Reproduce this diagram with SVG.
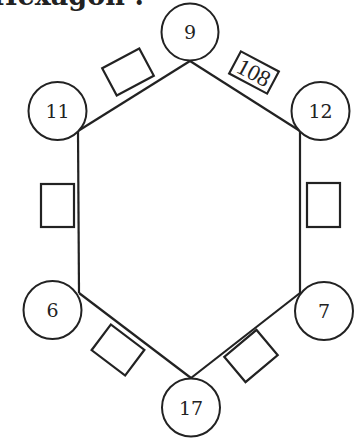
<svg xmlns="http://www.w3.org/2000/svg" width="363" height="438" viewBox="0 0 363 438">
<style>
.n circle{fill:#fff;stroke:#222;stroke-width:2}
.n text{font-family:"DejaVu Serif","Liberation Serif",serif;font-size:19px;fill:#222;text-anchor:middle;dominant-baseline:central}
.c line{stroke:#222;stroke-width:2.2}
.b rect{fill:#fff;stroke:#222;stroke-width:2.2}
.b text{font-family:"Liberation Serif","DejaVu Serif",serif;font-size:23px;fill:#222;text-anchor:middle;dominant-baseline:central}
.t{font-family:"DejaVu Serif","Liberation Serif",serif;font-weight:bold;font-size:27px;fill:#222}
</style>
<rect width="363" height="438" fill="#fff"/>
<text class="t" x="-8" y="5">Hexagon :</text>
<g class="c" id="connectors">
<line x1="190" y1="61" x2="78" y2="131"/>
<line x1="190" y1="61" x2="300" y2="131"/>
<line x1="78" y1="131" x2="79" y2="293"/>
<line x1="300" y1="131" x2="300" y2="293"/>
<line x1="79" y1="293" x2="191" y2="378"/>
<line x1="300" y1="293" x2="191" y2="378"/>
</g>
<g class="b" id="box-9-11"><rect x="-21" y="-15.5" width="42" height="31" transform="translate(128 72) rotate(-28)"/></g>
<g class="b" id="box-9-12"><g transform="translate(254 72.5) rotate(28)"><rect x="-21.5" y="-12.5" width="43" height="25"/><text x="0" y="0.5">108</text></g></g>
<g class="b" id="box-11-6"><rect x="41" y="184" width="33" height="43"/></g>
<g class="b" id="box-12-7"><rect x="307" y="183" width="33" height="44"/></g>
<g class="b" id="box-6-17"><rect x="-21" y="-16" width="42" height="32" transform="translate(118 350) rotate(37)"/></g>
<g class="b" id="box-7-17"><rect x="-21" y="-16.5" width="42" height="33" transform="translate(251 356) rotate(-40)"/></g>
<g class="n" id="node-9"><circle cx="190" cy="32" r="28.5"/><text x="190" y="32">9</text></g>
<g class="n" id="node-11"><circle cx="57.5" cy="111" r="29"/><text x="57.5" y="111">11</text></g>
<g class="n" id="node-12"><circle cx="320.5" cy="111" r="29"/><text x="320.5" y="111">12</text></g>
<g class="n" id="node-6"><circle cx="52.5" cy="310" r="29"/><text x="52.5" y="310">6</text></g>
<g class="n" id="node-7"><circle cx="324" cy="311" r="29"/><text x="324" y="311">7</text></g>
<g class="n" id="node-17"><circle cx="191" cy="407.5" r="29"/><text x="191" y="407.5">17</text></g>
</svg>
